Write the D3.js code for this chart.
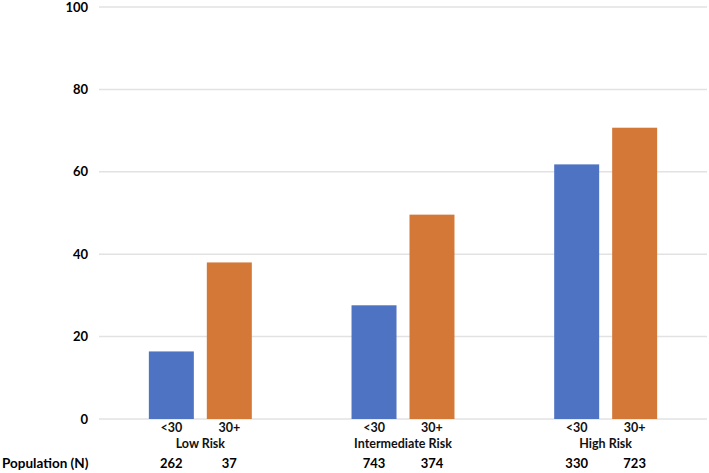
<!DOCTYPE html>
<html><head><meta charset="utf-8">
<script src="https://cdn.jsdelivr.net/npm/d3@7"></script>
<style>body{margin:0;background:#fff;} svg{display:block;font-family:Lato,"Open Sans",sans-serif;}</style>
</head><body><svg id="c" width="709" height="473"></svg>
<script>
const groups = ["Low Risk", "Intermediate Risk", "High Risk"];
const ageGroups = ["<30", "30+"];
const valuesUnder30 = [16.4, 27.6, 61.8];
const values30Plus = [38.0, 49.6, 70.7];
const popUnder30 = [262, 743, 330];
const pop30Plus = [37, 374, 723];
const yTicks = [0, 20, 40, 60, 80, 100];
const colors = {"<30": "#4F73C3", "30+": "#D37837"};

(function () {
const data = groups.map((g, i) => ({group: g, bars: [
  {age: "<30", value: valuesUnder30[i], pop: popUnder30[i]},
  {age: "30+", value: values30Plus[i], pop: pop30Plus[i]}
]}));

const svg = d3.select("#c");
const mLeft = 99, mRight = 707, mTop = 7, mBottom = 419;
const x0 = d3.scaleBand().domain(groups).range([mLeft, mRight]).padding(0);
const x1 = d3.scaleBand().domain(ageGroups).range([0, x0.bandwidth()]).paddingInner(0.224).paddingOuter(0.86);
const y = d3.scaleLinear().domain([0, 100]).range([mBottom, mTop]);

// gridlines
svg.append("g").selectAll("line").data(yTicks).join("line")
  .attr("x1", mLeft).attr("x2", mRight)
  .attr("y1", d => y(d)).attr("y2", d => y(d))
  .attr("stroke", "#e2e2e2").attr("stroke-width", 1.5);

// y axis labels
const yAxis = d3.axisLeft(y).tickValues(yTicks).tickSize(0).tickPadding(11);
const ya = svg.append("g").attr("transform", `translate(${mLeft},0)`).call(yAxis);
ya.select(".domain").remove();
ya.selectAll("text").attr("font-size", 13).attr("font-weight", "bold").attr("fill", "#000").attr("font-family", "Lato, sans-serif");

// bars
const gg = svg.append("g").selectAll("g").data(data).join("g")
  .attr("transform", d => `translate(${x0(d.group)},0)`);
gg.selectAll("rect").data(d => d.bars).join("rect")
  .attr("x", d => x1(d.age)).attr("width", x1.bandwidth())
  .attr("y", d => y(d.value)).attr("height", d => y(0) - y(d.value))
  .attr("fill", d => colors[d.age]);

// sub labels
gg.selectAll("text.age").data(d => d.bars).join("text").attr("class", "age")
  .attr("x", d => x1(d.age) + x1.bandwidth() / 2).attr("y", 432)
  .attr("text-anchor", "middle").attr("font-size", 12.5).attr("font-weight", "bold").attr("fill", "#111")
  .text(d => d.age);
// group labels
gg.append("text").attr("x", x0.bandwidth() / 2).attr("y", 448)
  .attr("text-anchor", "middle").attr("font-size", 12.5).attr("font-weight", "bold").attr("fill", "#111")
  .text(d => d.group);
// population
gg.selectAll("text.pop").data(d => d.bars).join("text").attr("class", "pop")
  .attr("x", d => x1(d.age) + x1.bandwidth() / 2).attr("y", 468)
  .attr("text-anchor", "middle").attr("font-size", 13).attr("font-weight", "bold")
  .text(d => d.pop);
svg.append("text").attr("x", 2).attr("y", 468).attr("font-size", 13.5).attr("font-weight", "bold")
  .text("Population (N)");
})();
</script></body></html>
